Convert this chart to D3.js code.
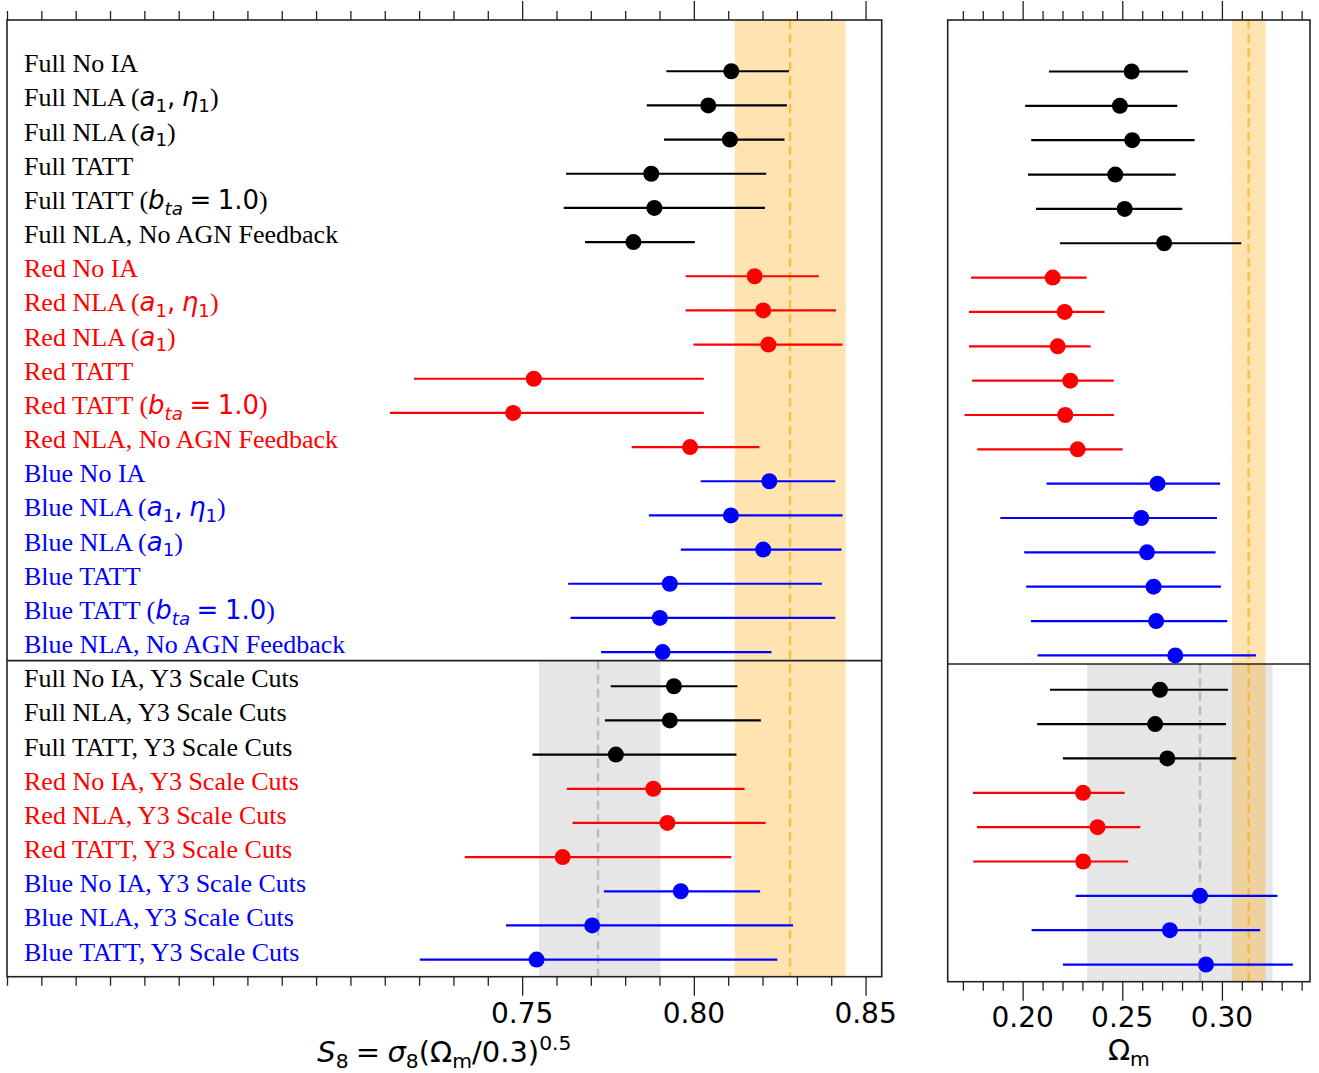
<!DOCTYPE html>
<html>
<head>
<meta charset="utf-8">
<script src="https://cdn.jsdelivr.net/npm/d3@7"></script>
<style>
  html, body { margin: 0; padding: 0; background: #fff; }
  svg { display: block; }
</style>
</head>
<body>
<svg id="chart" width="1319" height="1073"></svg>
<script>
// ---------------- DATA ----------------
const labels = [
  "Full No IA", "Full NLA ($a_1, \\eta_1$)", "Full NLA ($a_1$)", "Full TATT",
  "Full TATT ($b_{ta} = 1.0$)", "Full NLA, No AGN Feedback",
  "Red No IA", "Red NLA ($a_1, \\eta_1$)", "Red NLA ($a_1$)", "Red TATT",
  "Red TATT ($b_{ta} = 1.0$)", "Red NLA, No AGN Feedback",
  "Blue No IA", "Blue NLA ($a_1, \\eta_1$)", "Blue NLA ($a_1$)", "Blue TATT",
  "Blue TATT ($b_{ta} = 1.0$)", "Blue NLA, No AGN Feedback",
  "Full No IA, Y3 Scale Cuts", "Full NLA, Y3 Scale Cuts", "Full TATT, Y3 Scale Cuts",
  "Red No IA, Y3 Scale Cuts", "Red NLA, Y3 Scale Cuts", "Red TATT, Y3 Scale Cuts",
  "Blue No IA, Y3 Scale Cuts", "Blue NLA, Y3 Scale Cuts", "Blue TATT, Y3 Scale Cuts"
];
const rowColor = [
  "black","black","black","black","black","black",
  "red","red","red","red","red","red",
  "blue","blue","blue","blue","blue","blue",
  "black","black","black","red","red","red","blue","blue","blue"
];
const s8Mid = [0.8109,0.8042,0.8105,0.7876,0.7885,0.7824, 0.8177,0.8202,0.8217,0.7534,0.7474,0.7989,
               0.8220,0.8108,0.8202,0.7930,0.7901,0.7909, 0.7942,0.7930,0.7773, 0.7882,0.7923,0.7618,
               0.7962,0.7704,0.7542];
const s8Lo  = [0.7920,0.7863,0.7913,0.7628,0.7621,0.7683, 0.7976,0.7976,0.7999,0.7185,0.7115,0.7819,
               0.8020,0.7869,0.7962,0.7634,0.7641,0.7730, 0.7758,0.7741,0.7530, 0.7630,0.7647,0.7333,
               0.7738,0.7453,0.7202];
const s8Hi  = [0.8277,0.8271,0.8264,0.8211,0.8207,0.8003, 0.8364,0.8414,0.8433,0.8029,0.8029,0.8191,
               0.8412,0.8433,0.8430,0.8373,0.8412,0.8226, 0.8127,0.8195,0.8124, 0.8148,0.8209,0.8109,
               0.8193,0.8289,0.8243];
const omMid = [0.2547,0.2488,0.2550,0.2465,0.2512,0.2710, 0.2151,0.2211,0.2176,0.2239,0.2214,0.2276,
               0.2677,0.2595,0.2624,0.2657,0.2670,0.2766, 0.2689,0.2665,0.2726, 0.2303,0.2376,0.2304,
               0.2890,0.2739,0.2920];
const omLo  = [0.2132,0.2013,0.2043,0.2027,0.2067,0.2187, 0.1741,0.1731,0.1731,0.1747,0.1709,0.1772,
               0.2120,0.1888,0.2008,0.2018,0.2042,0.2075, 0.2137,0.2073,0.2202, 0.1751,0.1771,0.1752,
               0.2266,0.2045,0.2202];
const omHi  = [0.2829,0.2776,0.2863,0.2768,0.2801,0.3097, 0.2321,0.2411,0.2341,0.2457,0.2458,0.2502,
               0.2991,0.2975,0.2968,0.2995,0.3027,0.3171, 0.3030,0.3020,0.3072, 0.2512,0.2590,0.2530,
               0.3279,0.3192,0.3356];

const s8Band = [0.8119, 0.8442], s8Ref = 0.828;
const s8Y3Band = [0.7549, 0.7903], s8Y3Ref = 0.7721;
const omBand = [0.3050, 0.3219], omRef = 0.3134;
const omY3Band = [0.2324, 0.3254], omY3Ref = 0.2890;
const dividerRow = 17.25;

const s8MajorTicks = [0.75, 0.80, 0.85];
const s8TickLabels = ["0.75", "0.80", "0.85"];
const omMajorTicks = [0.20, 0.25, 0.30];
const omTickLabels = ["0.20", "0.25", "0.30"];
const s8XLabel = "$S_8 = \\sigma_8(\\Omega_{\\rm m}/0.3)^{0.5}$";
const omXLabel = "$\\Omega_{\\rm m}$";

// ---------------- LAYOUT ----------------
const svg = d3.select("#chart");
svg.append("rect").attr("width", 1319).attr("height", 1073).attr("fill", "#fff");

const L = {x0: 7, x1: 881.7, y0: 20, y1: 976.7};
const R = {x0: 947.7, x1: 1310, y0: 20, y1: 981.7};

const xL = d3.scaleLinear().domain([0.60, 0.8547]).range([L.x0, L.x1]);
const xR = d3.scaleLinear().domain([0.1624, 0.3442]).range([R.x0, R.x1]);
const yL = d3.scaleLinear().domain([-1.5, 26.5]).range([L.y0, L.y1]);
const yR = d3.scaleLinear().domain([-1.5, 26.5]).range([R.y0, R.y1]);

const s8Minor = d3.range(60, 86).map(v => v / 100);
const omMinor = d3.range(17, 35).map(v => v / 100);

const FRAME = "#222";

// -------- mathtext-ish parser --------
const greek = {eta: "η", sigma: "σ", Omega: "Ω"};
const THIN = "\u2005";
function parseMath(s, shift, rm) {
  const out = [];
  let i = 0;
  while (i < s.length) {
    const c = s[i];
    if (c === "\\") {
      let j = i + 1; let name = "";
      while (j < s.length && /[A-Za-z]/.test(s[j])) { name += s[j]; j++; }
      i = j;
      if (name === "rm") { rm = true; continue; }
      const g = greek[name] || name;
      out.push({t: g, it: !rm && name !== "Omega", shift});
      continue;
    }
    if (c === "_" || c === "^") {
      const ns = c === "_" ? "sub" : "sup";
      let grp;
      if (s[i + 1] === "{") {
        let depth = 1, j = i + 2;
        while (j < s.length && depth > 0) { if (s[j] === "{") depth++; if (s[j] === "}") depth--; j++; }
        grp = s.slice(i + 2, j - 1); i = j;
      } else { grp = s[i + 1]; i += 2; }
      parseMath(grp, ns, false).forEach(o => out.push(o));
      continue;
    }
    if (c === "{" || c === "}" || c === " ") { i++; continue; }
    let t = c;
    if (c === "=") t = THIN + "=" + THIN;
    if (c === ",") t = "," + THIN;
    out.push({t, it: !rm && /[A-Za-z]/.test(c), shift});
    i++;
  }
  return out;
}
function parseLabel(str) {
  const parts = str.split("$");
  const segs = [];
  parts.forEach((p, k) => {
    if (!p) return;
    if (k % 2 === 0) segs.push({t: p, serif: true, shift: null});
    else parseMath(p, null, false).forEach(o => segs.push(o));
  });
  return segs;
}
function renderText(g, str, x, y, fs, color, anchor) {
  const text = g.append("text").attr("x", x).attr("y", y)
    .attr("fill", color).attr("font-size", fs)
    .attr("text-anchor", anchor || "start")
    .style("white-space", "pre");
  let cur = 0;
  parseLabel(str).forEach(sg => {
    const target = sg.shift === "sub" ? 0.22 * fs : sg.shift === "sup" ? -0.42 * fs : 0;
    text.append("tspan").text(sg.t)
      .attr("dy", target - cur)
      .attr("font-family", sg.serif ? "'Liberation Serif', 'Times New Roman', serif" : "'DejaVu Sans', sans-serif")
      .attr("font-style", sg.it ? "italic" : "normal")
      .attr("font-size", sg.shift ? fs * 0.7 : fs);
    cur = target;
  });
  return text;
}

// ---------------- PANEL DRAW ----------------
function drawPanel(box, x, y, mid, lo, hi, band, ref, y3band, y3ref, majors, tickLabels, minors, xlabel, labelBase, xlabelY, withLabels) {
  const g = svg.append("g");
  const clipId = "clip" + Math.round(box.x0);
  svg.append("clipPath").attr("id", clipId).append("rect")
    .attr("x", box.x0).attr("y", box.y0).attr("width", box.x1 - box.x0).attr("height", box.y1 - box.y0);
  const inner = g.append("g").attr("clip-path", `url(#${clipId})`);
  const yDiv = y(dividerRow);

  inner.append("rect").attr("x", x(y3band[0])).attr("width", x(y3band[1]) - x(y3band[0]))
    .attr("y", yDiv).attr("height", box.y1 - yDiv).attr("fill", "grey").attr("fill-opacity", 0.2);
  inner.append("rect").attr("x", x(band[0])).attr("width", x(band[1]) - x(band[0]))
    .attr("y", box.y0).attr("height", box.y1 - box.y0).attr("fill", "orange").attr("fill-opacity", 0.3);
  inner.append("line").attr("x1", x(y3ref)).attr("x2", x(y3ref)).attr("y1", yDiv).attr("y2", box.y1)
    .attr("stroke", "grey").attr("stroke-opacity", 0.4).attr("stroke-width", 2.5).attr("stroke-dasharray", "9,5");
  inner.append("line").attr("x1", x(ref)).attr("x2", x(ref)).attr("y1", box.y0).attr("y2", box.y1)
    .attr("stroke", "orange").attr("stroke-opacity", 0.6).attr("stroke-width", 2.5).attr("stroke-dasharray", "9,5");

  inner.append("line").attr("x1", box.x0).attr("x2", box.x1).attr("y1", yDiv).attr("y2", yDiv)
    .attr("stroke", FRAME).attr("stroke-width", 1.6);

  const idx = d3.range(mid.length);
  inner.selectAll("line.err").data(idx).join("line").attr("class", "err")
    .attr("x1", i => x(lo[i])).attr("x2", i => x(hi[i]))
    .attr("y1", i => y(i)).attr("y2", i => y(i))
    .attr("stroke", i => rowColor[i]).attr("stroke-width", 2.2);
  inner.selectAll("circle.pt").data(idx).join("circle").attr("class", "pt")
    .attr("cx", i => x(mid[i])).attr("cy", i => y(i)).attr("r", 8)
    .attr("fill", i => rowColor[i]);

  if (withLabels) {
    idx.forEach(i => renderText(g, labels[i], 24, y(i) + 1, 26, rowColor[i], "start"));
  }

  g.append("rect").attr("x", box.x0).attr("y", box.y0).attr("width", box.x1 - box.x0).attr("height", box.y1 - box.y0)
    .attr("fill", "none").attr("stroke", FRAME).attr("stroke-width", 1.6);

  const minorOnly = minors.filter(v => !majors.some(m => Math.abs(m - v) < 1e-6));
  const mk = (gen, vals, size, ty) => {
    const a = g.append("g").attr("transform", `translate(0,${ty})`)
      .call(gen(x).tickValues(vals).tickSize(size).tickSizeOuter(0).tickFormat(""));
    a.select(".domain").remove();
    a.selectAll("line").attr("stroke", FRAME).attr("stroke-width", 1.3);
  };
  mk(d3.axisBottom, minorOnly, 9, box.y1);
  mk(d3.axisBottom, majors, 19, box.y1);
  mk(d3.axisTop, minorOnly, 9, box.y0);
  mk(d3.axisTop, majors, 19, box.y0);

  majors.forEach((m, k) => {
    g.append("text").attr("x", x(m)).attr("y", box.y1 + labelBase)
      .attr("text-anchor", "middle").attr("font-family", "'DejaVu Sans', sans-serif")
      .attr("font-size", 28).attr("fill", "#000").text(tickLabels[k]);
  });
  renderText(g, xlabel, (box.x0 + box.x1) / 2, xlabelY, 29, "#000", "middle");
}

drawPanel(L, xL, yL, s8Mid, s8Lo, s8Hi, s8Band, s8Ref, s8Y3Band, s8Y3Ref,
  s8MajorTicks, s8TickLabels, s8Minor, s8XLabel, 46.5, 1062, true);
drawPanel(R, xR, yR, omMid, omLo, omHi, omBand, omRef, omY3Band, omY3Ref,
  omMajorTicks, omTickLabels, omMinor, omXLabel, 45, 1060, false);
</script>
</body>
</html>
